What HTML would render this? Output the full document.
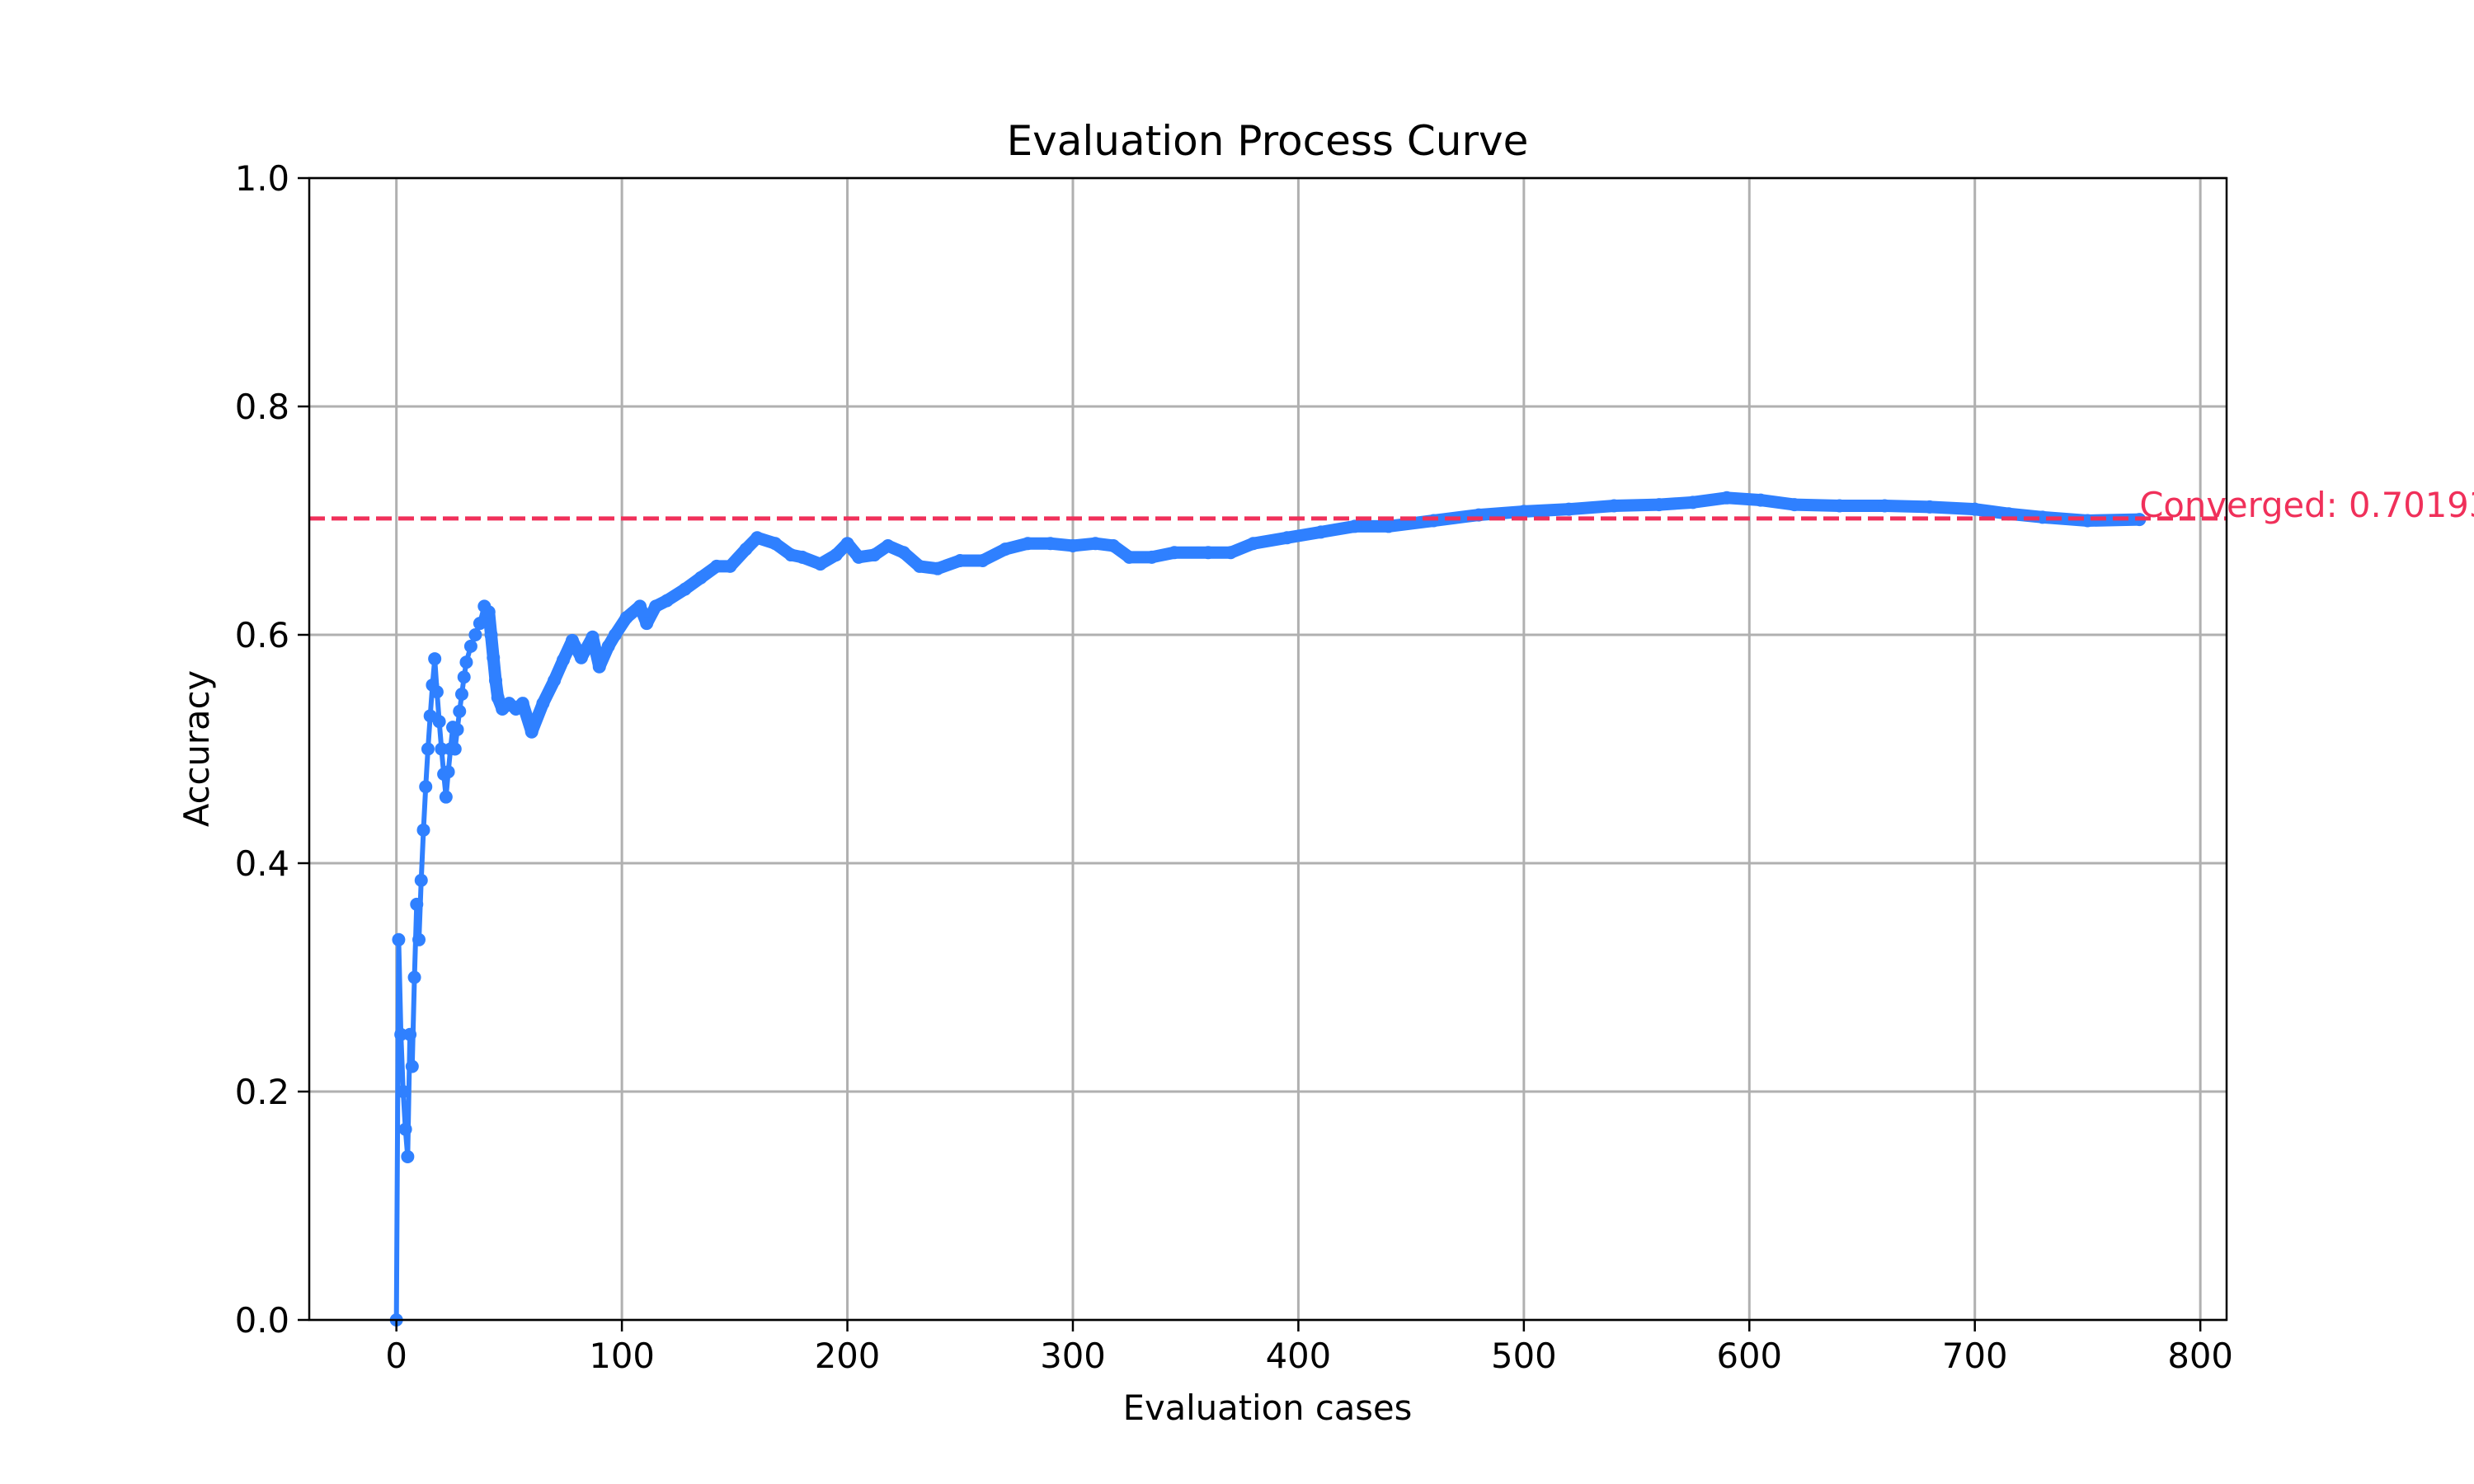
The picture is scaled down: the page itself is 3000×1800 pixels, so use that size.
<!DOCTYPE html>
<html><head><meta charset="utf-8">
<style>
html,body{margin:0;padding:0;background:#fff;overflow:hidden;width:3000px;height:1800px}
svg{display:block;font-family:"DejaVu Sans","Liberation Sans",sans-serif}
</style></head>
<body>
<svg id="chart" width="3000" height="1800" viewBox="0 0 3000 1800" xmlns="http://www.w3.org/2000/svg">
<rect width="3000" height="1800" fill="#fff"/>
<g id="grid"></g>
<g id="series"></g>
<g id="conv"></g>
<rect x="375" y="216" width="2325" height="1385" fill="none" stroke="#000" stroke-width="2.5"/>
<g id="ticks"></g>
<text x="1537" y="188" font-size="50" text-anchor="middle">Evaluation Process Curve</text>
<text x="1537" y="1722" font-size="41.7" text-anchor="middle">Evaluation cases</text>
<text x="0" y="0" font-size="41.7" text-anchor="middle" transform="translate(253,908) rotate(-90)">Accuracy</text>
</svg>
<script>
const xTicks=[0,100,200,300,400,500,600,700,800];
const yTicks=[0,0.2,0.4,0.6,0.8,1.0];
const yTickLabels=["0.0","0.2","0.4","0.6","0.8","1.0"];
const caseX=[0,1,2,3,4,5,6,7,8,9,10,11,12,13,14,15,16,17,18,19,20,21,22,23,24,25,26,27,28,29,30,31,33,35,37,39,41,42,43,44,45,47,50,53,56,60,65,70,74,78,82,87,90,94,97,102,108,111,115,120,128,135,142,148,155,160,168,175,180,188,195,200,205,212,218,225,232,240,250,260,270,280,290,300,310,318,325,335,345,360,370,380,395,410,425,440,460,480,500,520,540,560,575,590,605,620,640,660,680,700,715,730,750,773];
const accuracy=[0,0.333,0.25,0.2,0.167,0.143,0.25,0.222,0.3,0.364,0.333,0.385,0.429,0.467,0.5,0.529,0.556,0.579,0.55,0.524,0.5,0.478,0.458,0.48,0.5,0.519,0.5,0.517,0.533,0.548,0.563,0.576,0.59,0.6,0.61,0.625,0.62,0.6,0.58,0.56,0.545,0.535,0.54,0.535,0.54,0.515,0.54,0.56,0.578,0.595,0.58,0.598,0.572,0.59,0.6,0.615,0.625,0.61,0.625,0.63,0.64,0.65,0.66,0.66,0.675,0.685,0.68,0.67,0.668,0.662,0.67,0.68,0.668,0.67,0.678,0.672,0.66,0.658,0.665,0.665,0.675,0.68,0.68,0.678,0.68,0.678,0.668,0.668,0.672,0.672,0.672,0.68,0.685,0.69,0.695,0.695,0.7,0.705,0.708,0.71,0.713,0.714,0.716,0.72,0.718,0.714,0.713,0.713,0.712,0.71,0.706,0.703,0.7,0.701];
const convergedValue=0.70193;
const NS="http://www.w3.org/2000/svg";
const X0=-38.65,X1=811.65,L=375,R=2700,T=216,B=1601;
function sx(v){return L+(v-X0)/(X1-X0)*(R-L);}
function sy(v){return B-v*(B-T);}
function mk(tag,attrs,parent){const e=document.createElementNS(NS,tag);for(const k in attrs)e.setAttribute(k,attrs[k]);parent.appendChild(e);return e;}
const grid=document.getElementById('grid'),ticks=document.getElementById('ticks'),series=document.getElementById('series'),conv=document.getElementById('conv');
xTicks.forEach(t=>{
  const x=sx(t);
  const g=mk('line',{x1:x,x2:x,y1:T,y2:B,stroke:'#b0b0b0','stroke-width':3},grid);
  
  
  const tk=mk('line',{x1:x,x2:x,y1:B,y2:B+14,stroke:'#000','stroke-width':2.5},ticks);
  
  
  const tl=mk('text',{x:x,y:B+58,'font-size':41.7,'text-anchor':'middle'},ticks);
  tl.textContent=String(t);
  
  
});
yTicks.forEach((t,i)=>{
  const y=sy(t);
  const g=mk('line',{x1:L,x2:R,y1:y,y2:y,stroke:'#b0b0b0','stroke-width':3},grid);
  
  
  const tk=mk('line',{x1:L-14,x2:L,y1:y,y2:y,stroke:'#000','stroke-width':2.5},ticks);
  
  
  const tl=mk('text',{x:L-24,y:y+15,'font-size':41.7,'text-anchor':'end'},ticks);
  tl.textContent=yTickLabels[i];
  
  
});
const color='#2f80ff';
const pts=caseX.map((v,i)=>sx(v)+','+sy(accuracy[i])).join(' ');
const line=mk('polyline',{points:pts,fill:'none',stroke:color,'stroke-width':6,'stroke-linejoin':'round'},series);


const densePts=caseX.map((v,i)=>[v,accuracy[i]]).filter(p=>p[0]>=40).map(p=>sx(p[0])+','+sy(p[1])).join(' ');
const band=mk('polyline',{points:densePts,fill:'none',stroke:color,'stroke-width':15,'stroke-linejoin':'round','stroke-linecap':'round'},series);


caseX.forEach((v,i)=>{
  const c=mk('circle',{cx:sx(v),cy:sy(accuracy[i]),r:8,fill:color},series);
  
  
});
const cy=sy(convergedValue);
const cl=mk('line',{x1:L,x2:R,y1:cy,y2:cy,stroke:'#f0305a','stroke-width':5,'stroke-dasharray':'19,8'},conv);


const ct=mk('text',{x:sx(773),y:cy-2,'font-size':41.7,fill:'#f0305a'},conv);
ct.textContent='Converged: '+convergedValue.toFixed(5);


</script>
</body></html>
